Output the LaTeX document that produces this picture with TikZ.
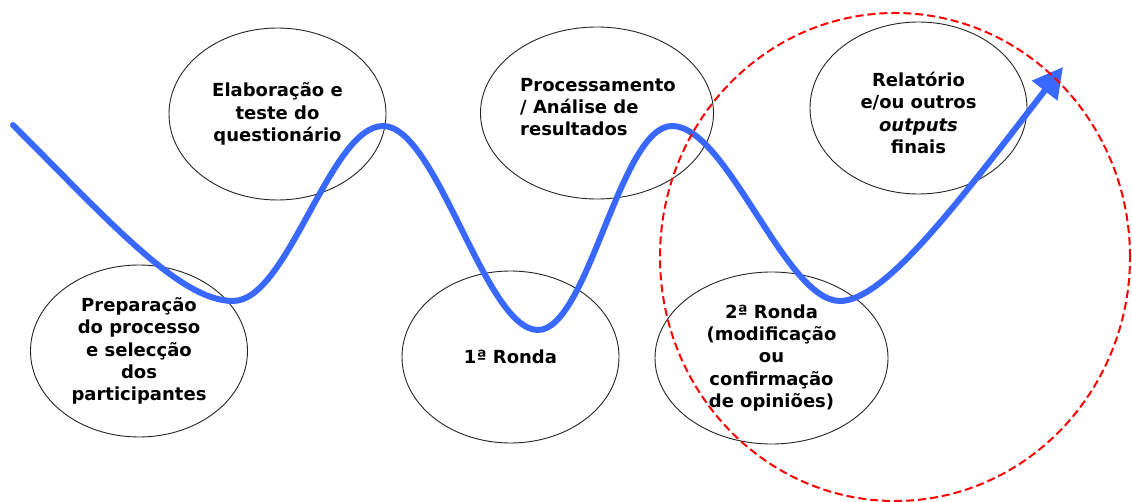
\documentclass[tikz,border=0pt]{standalone}
\usepackage{fontspec}
\setmainfont{DejaVu Sans}
\usetikzlibrary{shapes.geometric,arrows.meta}
\definecolor{flowblue}{RGB}{56,104,255}
\definecolor{ringred}{RGB}{255,0,0}
\tikzset{
  bubble/.style={ellipse, draw=black!85, line width=0.9pt, inner sep=0pt,
    minimum width=217pt, minimum height=172pt},
  widebubble/.style={bubble, minimum width=233pt},
  lbl/.style={font=\fontsize{18}{22.3}\selectfont\bfseries, align=center, inner sep=0pt},
  flow/.style={draw=flowblue, line width=6pt, line cap=round,
    -{Triangle[length=30pt,width=31pt]}},
  ring/.style={draw=ringred, line width=2pt, dash pattern=on 8pt off 4pt}
}
\begin{document}
\begin{tikzpicture}[x=1pt,y=-1pt]
\fill[white] (0,0) rectangle (1132,502);
\useasboundingbox (0,0) rectangle (1132,502);
% ellipses
\node[bubble, lbl] (prep) at (139,351) {Preparação\\do processo\\e selecção\\dos\\participantes};
\node[bubble, lbl] (elab) at (277.5,114) {Elaboração e\\teste do\\questionário};
\node[bubble, lbl] (r1) at (510.5,357) {1ª Ronda};
\node[widebubble] (proc) at (597,113) {};
\node[lbl, align=left] (proctxt) at (598,107) {Processamento\\/ Análise de\\resultados};
\node[widebubble, lbl] (r2) at (771.5,358) {2ª Ronda\\(modificação\\ou\\confirmação\\de opiniões)};
\node[bubble] (rel) at (918.5,108) {};
\node[lbl] (reltxt) at (918.5,113) {Relatório\\e/ou outros\\\textit{outputs}\\finais};
% blue flow curve
\coordinate (s) at (13,125);
\coordinate (m1) at (233,301);
\coordinate (x1) at (383,126);
\coordinate (m2) at (538,330);
\coordinate (x2) at (672,126);
\coordinate (m3) at (840,301);
\coordinate (tip) at (1063,67);
\draw[flow] (s) .. controls (110,222) and (180,301) .. (m1)
  .. controls (288,301) and (330,126) .. (x1)
  .. controls (437,126) and (485,330) .. (m2)
  .. controls (588,330) and (620,126) .. (x2)
  .. controls (727,126) and (785,301) .. (m3)
  .. controls (885,301) and (960,200) .. (tip);
% red dashed circle
\node[ring, ellipse, minimum width=470pt, minimum height=488pt, inner sep=0pt] (circ) at (895,257) {};
\end{tikzpicture}
\end{document}
